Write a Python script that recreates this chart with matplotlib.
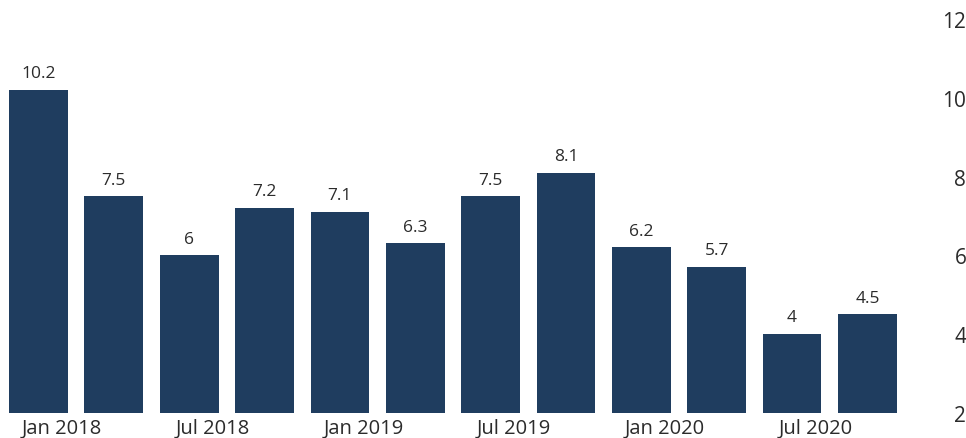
import matplotlib.pyplot as plt
import numpy as np

# Quarterly values, Jan 2018 - Oct 2020
quarters = ['Jan 2018', 'Apr 2018', 'Jul 2018', 'Oct 2018',
            'Jan 2019', 'Apr 2019', 'Jul 2019', 'Oct 2019',
            'Jan 2020', 'Apr 2020', 'Jul 2020', 'Oct 2020']
values = [10.2, 7.5, 6, 7.2, 7.1, 6.3, 7.5, 8.1, 6.2, 5.7, 4, 4.5]
y_ticks = [2, 4, 6, 8, 10, 12]

bar_color = '#1f3d5f'
text_color = '#2b2b2b'
plt.rcParams['font.family'] = ['Open Sans', 'DejaVu Sans']

fig = plt.figure(figsize=(9.66, 4.39), dpi=100)
ax = fig.add_axes([0.0, 0.058, 0.937, 0.896])

x = np.arange(len(values))
bars = ax.bar(x, values, width=0.78, color=bar_color, bottom=0)

for bar, v in zip(bars, values):
    ax.text(bar.get_x() + bar.get_width() / 2, v + 0.22, f"{v:g}",
            ha='center', va='bottom', fontsize=12.5, color=text_color)

ax.set_xlim(-0.51, 11.5)
ax.set_ylim(2, 12)

# labels every other quarter, shifted a little right of the bar centre
ax.set_xticks(x[::2] + 0.31)
ax.set_xticklabels(quarters[::2], fontsize=14.5, color=text_color)
ax.tick_params(axis='x', length=0, pad=4)

ax.yaxis.tick_right()
ax.set_yticks(y_ticks)
ax.set_yticklabels([str(t) for t in y_ticks], fontsize=15, color=text_color, ha='right')
ax.tick_params(axis='y', length=0, pad=44)

for side in ['top', 'right', 'left', 'bottom']:
    ax.spines[side].set_visible(False)

fig.savefig('out.png', dpi=100)
